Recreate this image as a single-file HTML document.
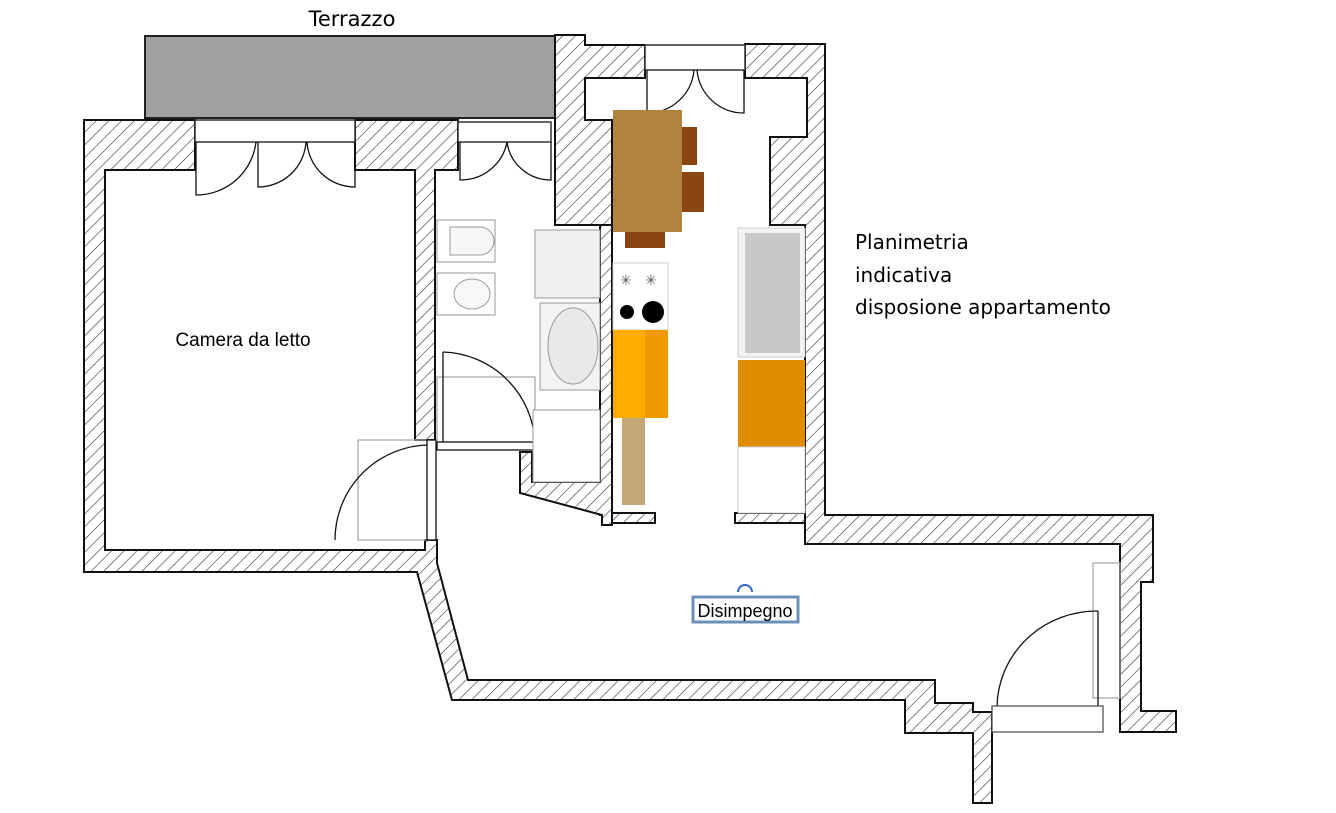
<!DOCTYPE html>
<html><head><meta charset="utf-8"><style>
html,body{margin:0;padding:0;background:#fff;}
svg{display:block;font-family:"Liberation Sans","DejaVu Sans",sans-serif;}
</style></head><body>
<svg width="1336" height="813" viewBox="0 0 1336 813" xmlns="http://www.w3.org/2000/svg">
<defs>
<pattern id="h" patternUnits="userSpaceOnUse" width="9" height="9" patternTransform="rotate(45)">
<rect width="9" height="9" fill="#fff"/><line x1="0" y1="0" x2="0" y2="9" stroke="#333" stroke-width="1.2"/>
</pattern>
</defs>
<g stroke="#111" stroke-width="2" fill="url(#h)">
<rect x="145" y="36" width="412" height="82" fill="#a0a0a0" stroke="#222"/>
<polygon points="84,120 195,120 195,170 105,170 105,550 425,550 425,540 437,540 437,563 468,680 935,680 935,703 973,703 973,712 992,712 992,803 973,803 973,733 905,733 905,700 452,700 417,572 84,572"/>
<polygon points="355,120 458,120 458,170 435,170 435,440 415,440 415,170 355,170"/>
<polygon points="825,44 745,44 745,78 807,78 807,137 770,137 770,225 805,225 805,544 1120,544 1120,732 1176,732 1176,711 1141,711 1141,582 1153,582 1153,515 825,515"/>
<polygon points="555,35 585,35 585,45 645,45 645,78 585,78 585,120 612,120 612,225 555,225"/>
<rect x="600" y="225" width="12" height="290"/>
<rect x="612" y="513" width="43" height="10"/>
<rect x="735" y="513" width="70" height="10"/>
<polygon points="520,452 532,452 532,482 600,482 600,225 612,225 612,525 602,525 602,515 520,493"/>
</g>
<g fill="#fff" stroke="#333" stroke-width="1.5">
<rect x="195" y="120" width="160" height="22"/>
<rect x="458" y="122" width="93" height="20"/>
<rect x="645" y="45" width="100" height="25"/>
</g>
<g fill="none" stroke="#111" stroke-width="1.3">
<path d="M196,142 L196,195 A60,60 0 0 0 256,142"/>
<path d="M258,142 L258,187 A48,48 0 0 0 306,142"/>
<path d="M355,142 L355,187 A48,48 0 0 1 307,142"/>
<path d="M460,142 L460,180 A47,47 0 0 0 507,142"/>
<path d="M551,142 L551,180 A44,44 0 0 1 507,142"/>
<path d="M647,70 L647,113 A47,47 0 0 0 694,70"/>
<path d="M744,70 L744,113 A47,47 0 0 1 697,70"/>
<rect x="358" y="440" width="74" height="100" stroke="#aaa"/>
<path d="M430,445 A95,95 0 0 0 335,540"/>
<rect x="427" y="440" width="9" height="100" fill="#fff"/>
<rect x="437" y="377" width="98" height="68" stroke="#aaa"/>
<path d="M443,352 A95,95 0 0 1 535,443"/>
<line x1="443" y1="352" x2="443" y2="442"/>
<rect x="437" y="442" width="103" height="8" fill="#fff"/>
<rect x="1093" y="563" width="27" height="135" stroke="#aaa"/>
<line x1="1098" y1="611" x2="1098" y2="707"/>
<path d="M1098,611 A100,97 0 0 0 997,708"/>
<rect x="992" y="706" width="111" height="26" fill="#fff" stroke="#555"/>
</g>
<g stroke="#999" stroke-width="1" fill="#fff">
<rect x="437" y="220" width="58" height="42"/>
<path d="M450,227 L480,227 A14,14 0 0 1 480,255 L450,255 Z" fill="#f6f6f6"/>
<rect x="437" y="273" width="58" height="42"/>
<ellipse cx="472" cy="294" rx="18" ry="15" fill="#f8f8f8"/>
<rect x="535" y="230" width="65" height="68" fill="#f0f0f0"/>
<rect x="540" y="303" width="60" height="87" fill="#f3f3f3"/>
<ellipse cx="573" cy="346" rx="25" ry="38" fill="#e9e9e9"/>
<rect x="533" y="410" width="67" height="72"/>
</g>
<rect x="613" y="110" width="69" height="122" fill="#b08340"/>
<rect x="682" y="127" width="15" height="38" fill="#8b4513"/>
<rect x="682" y="172" width="22" height="40" fill="#8b4513"/>
<rect x="625" y="232" width="40" height="16" fill="#8b4513"/>
<rect x="613" y="263" width="55" height="67" fill="#fff" stroke="#ccc"/>
<text x="620" y="285" font-size="14" fill="#555">✳</text><text x="645" y="285" font-size="14" fill="#555">✳</text>
<circle cx="627" cy="312" r="7" fill="#000"/><circle cx="653" cy="312" r="11" fill="#000"/>
<rect x="613" y="330" width="55" height="88" fill="#ffab00"/>
<rect x="645" y="330" width="23" height="88" fill="#f09a00"/>
<rect x="622" y="418" width="23" height="87" fill="#c4a878"/>
<rect x="738" y="228" width="67" height="129" fill="#f3f3f3" stroke="#ccc"/>
<rect x="745" y="233" width="55" height="120" fill="#c8c8c8"/>
<rect x="738" y="360" width="67" height="87" fill="#e08c00"/>
<rect x="738" y="447" width="67" height="66" fill="#fff" stroke="#ccc"/>
<text x="352" y="26" font-size="21" text-anchor="middle" fill="#000" font-family="DejaVu Sans, sans-serif">Terrazzo</text>
<text x="243" y="346" font-size="19" text-anchor="middle" fill="#000">Camera da letto</text>
<g font-size="20" fill="#000" font-family="DejaVu Sans, sans-serif"><text x="855" y="249">Planimetria</text><text x="855" y="282">indicativa</text><text x="855" y="314">disposione appartamento</text></g>
<rect x="693" y="597" width="105" height="25" fill="#fff" stroke="#6b8fb8" stroke-width="3"/>
<path d="M738,592 A7,7 0 0 1 752,592" fill="none" stroke="#36c" stroke-width="2"/>
<text x="745" y="617" font-size="18" text-anchor="middle" fill="#000">Disimpegno</text>
</svg>
</body></html>
